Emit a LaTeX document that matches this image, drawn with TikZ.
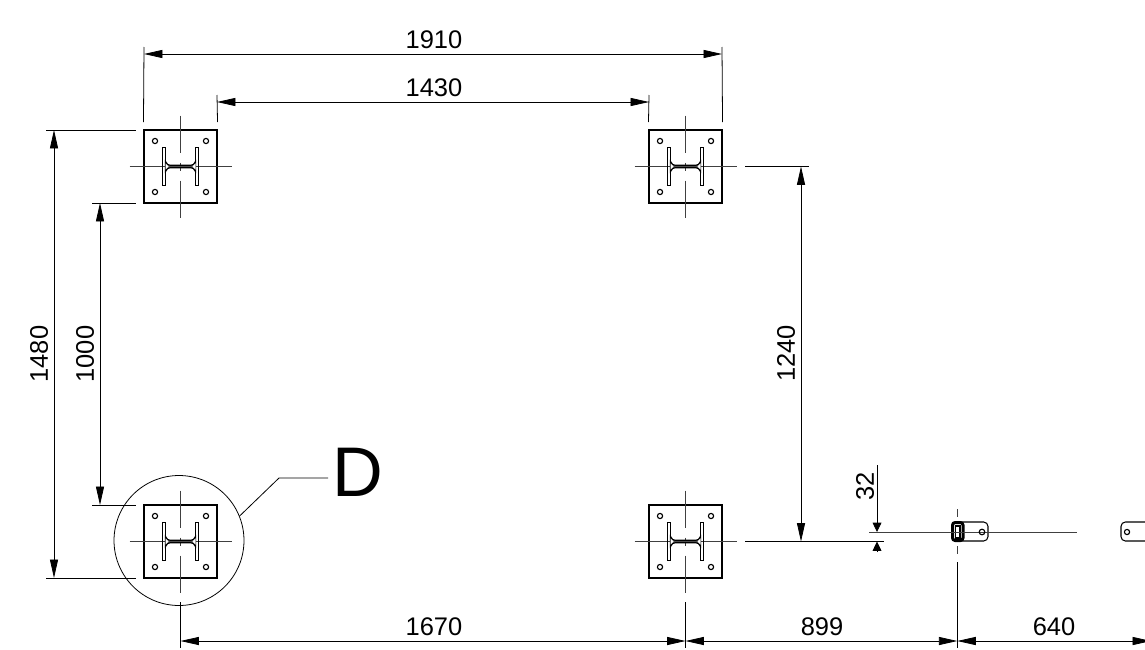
\documentclass[tikz,border=0pt]{standalone}
\usepackage{fontspec}
\setmainfont{Liberation Sans}
\usetikzlibrary{arrows.meta}
\tikzset{
    dimline/.style = {line width=0.45pt, {Triangle[length=10.5pt,width=4.6pt]}-{Triangle[length=10.5pt,width=4.6pt]}},
    extline/.style = {line width=0.45pt},
    shortdim/.style = {line width=0.45pt, -{Triangle[length=5.3pt,width=5pt]}},
    centerline/.style = {line width=0.45pt, black!75},
    plate/.style = {draw, line width=0.6pt, minimum size=1.46cm, inner sep=0pt},
    dimtext/.style = {font=\fontsize{14.5}{14.5}\selectfont, inner sep=0pt},
    steel/.style = {line width=0.65pt}
}
\begin{document}
\begin{tikzpicture}[x=0.02cm, y=-0.02cm]
    \useasboundingbox (0,0) rectangle (1145,649);
    % base plates
    \foreach \name/\px/\py in {platetl/180.5/166.5, platetr/685.5/166.5, platebl/180.5/541.5, platebr/685.5/541.5} {
        \node[plate] (\name) at (\px,\py) {};
        \begin{scope}[shift={(\px,\py)}]
            \foreach \hx in {-25.5,25.5}
                \foreach \hy in {-25.5,25.5}
                    \draw[steel] (\hx,\hy) circle (2.6);
            \draw[centerline] (-51,0) -- (51,0);
            \draw[centerline] (0,-51) -- (0,-14);
            \draw[centerline] (0,-4) -- (0,4);
            \draw[centerline] (0,14) -- (0,51);
            \draw[steel] (-18.3,-19) rectangle (-15,19);
            \draw[steel] (15,-19) rectangle (18.3,19);
            \draw[steel, fill=black!70] (-15,-5) .. controls (-14,-2) and (-12,-1.2) .. (-10,-1.2) -- (10,-1.2) .. controls (12,-1.2) and (14,-2) .. (15,-5) -- (15,5) .. controls (14,2) and (12,1.2) .. (10,1.2) -- (-10,1.2) .. controls (-12,1.2) and (-14,2) .. (-15,5) -- cycle;
            \fill[white] (-15,-3.2) .. controls (-14,-1.5) and (-13,-0.8) .. (-12,0) .. controls (-13,0.8) and (-14,1.5) .. (-15,3.2) -- cycle;
            \fill[white] (15,-3.2) .. controls (14,-1.5) and (13,-0.8) .. (12,0) .. controls (13,0.8) and (14,1.5) .. (15,3.2) -- cycle;
        \end{scope}
    }
    % detail circle
    \node[draw, circle, line width=0.45pt, minimum size=2.6cm, inner sep=0pt] (detail) at (179,540.5) {};
    \node[font=\fontsize{40}{40}\selectfont, inner sep=0pt] (detailname) at (357.5,472) {D};
    \coordinate (leaderbend) at (279,478);
    \coordinate (leaderend) at (328,478);
    \draw[extline] (detail.22) -- (leaderbend) -- (leaderend);
    % top dimensions
    \draw[extline] (144,47) -- (platetl.north west |- 0,122);
    \draw[extline] (722,47) -- (platetr.north east |- 0,122);
    \draw[extline] (217,95) -- (platetl.north east |- 0,122);
    \draw[extline] (649,95) -- (platetr.north west |- 0,122);
    \draw[dimline] (144,54) -- (722,54);
    \draw[dimline] (217,102) -- (649,102);
    \node[dimtext] (dimtop) at (434,40) {1910};
    \node[dimtext] (diminner) at (434,88) {1430};
    % left dimensions
    \draw[extline] (46,130) -- (136,130);
    \draw[extline] (46,578) -- (136,578);
    \draw[extline] (92,203) -- (136,203);
    \draw[extline] (92,505) -- (136,505);
    \draw[dimline] (54,130) -- (54,578);
    \draw[dimline] (100,203) -- (100,505);
    \node[dimtext, rotate=90] (dimleft) at (39,354) {1480};
    \node[dimtext, rotate=90] (dimleftin) at (85,354) {1000};
    % right dimensions
    \draw[extline] (745,166.5) -- (809,166.5);
    \draw[extline] (745,541.5) -- (884,541.5);
    \draw[dimline] (801,166.5) -- (801,541.5);
    \node[dimtext, rotate=90] (dimright) at (786,353.5) {1240};
    % offset of the brackets
    \draw[shortdim] (877,465) -- (877,532);
    \draw[shortdim] (877,552) -- (877,541.5);
    \node[dimtext, rotate=90] (dimoffset) at (865,486) {32};
    % brackets
    \draw[line width=0.6pt, fill=white, rounded corners=2.5] (952,522) rectangle (988,541);
    \draw[line width=1.7pt, fill=white, rounded corners=1.5] (952.5,522.5) rectangle (963,540.5);
    \draw[steel] (955.5,526) rectangle (960,538);
    \draw[centerline] (869,532) -- (1077,532);
    \draw[steel] (982,532) circle (2.8);
    \draw[line width=0.6pt, rounded corners=2.5] (1160,522) -- (1121,522) -- (1121,541) -- (1160,541);
    \draw[steel] (1127,532) circle (2.6);
    \draw[centerline] (957.3,509) -- (957.3,517);
    \draw[centerline] (957.3,546) -- (957.3,554);
    % bottom dimensions
    \draw[extline] (180.5,602) -- (180.5,648);
    \draw[extline] (685.5,602) -- (685.5,648);
    \draw[extline] (957.3,562) -- (957.3,648);
    \draw[dimline] (180.5,641) -- (685.5,641);
    \draw[dimline] (685.5,641) -- (957.3,641);
    \draw[dimline] (957.3,641) -- (1151,641);
    \node[dimtext] (dimbase) at (434,627) {1670};
    \node[dimtext] (dimnext) at (822,627) {899};
    \node[dimtext] (dimlast) at (1054,627) {640};
\end{tikzpicture}
\end{document}
